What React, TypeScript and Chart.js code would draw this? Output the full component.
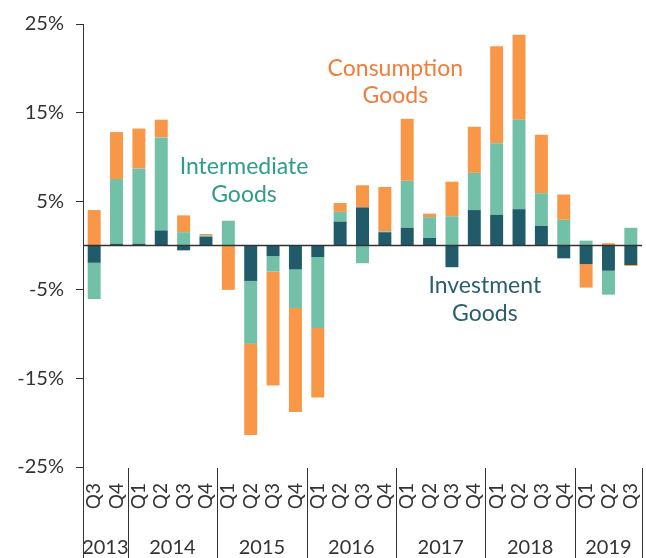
import { useEffect, useRef } from "react";
import { Chart, registerables } from "chart.js";

Chart.register(...registerables);

const quarters = [
  "Q3", "Q4",
  "Q1", "Q2", "Q3", "Q4",
  "Q1", "Q2", "Q3", "Q4",
  "Q1", "Q2", "Q3", "Q4",
  "Q1", "Q2", "Q3", "Q4",
  "Q1", "Q2", "Q3", "Q4",
  "Q1", "Q2", "Q3",
];
const years = ["2013", "2014", "2015", "2016", "2017", "2018", "2019"];

const investment = [
  -1.95, 0.2, 0.2, 1.7, -0.55, 1.0, 0, -4.0, -1.2, -2.7, -1.3, 2.7, 4.3, 1.5, 2.0,
  0.85, -2.45, 4.0, 3.45, 4.1, 2.2, -1.45, -2.1, -2.85, -2.2,
];
const intermediate = [
  -4.1, 7.3, 8.5, 10.5, 1.5, 0.15, 2.8, -7.1, -1.75, -4.35, -8.0, 1.1, -2.0, 0.1, 5.3,
  2.35, 3.3, 4.2, 8.1, 10.1, 3.7, 2.9, 0.55, -2.7, 2.0,
];
const consumption = [
  4.0, 5.3, 4.5, 2.0, 1.9, 0.15, -5.0, -10.3, -12.85, -11.75, -7.85, 1.0, 2.5, 5.0, 7.0,
  0.4, 3.9, 5.2, 10.95, 9.6, 6.6, 2.85, -2.65, 0.25, -0.1,
];
const yTicks = [-25, -15, -5, 5, 15, 25];

const seriesNames = ["Investment Goods", "Intermediate Goods", "Consumption Goods"];
const barColors = ["#215B69", "#72C0A7", "#F79747"];
const textColors = ["#2B5F6E", "#2E9C8B", "#F07D3A"];

// annotation anchors in data space: [category index, value]
const notes = [
  { lines: ["Investment", "Goods"], at: [17.47, -4.55], step: -3.1, color: textColors[0] },
  { lines: ["Intermediate", "Goods"], at: [6.7, 8.9], step: -3.15, color: textColors[1] },
  { lines: ["Consumption", "Goods"], at: [13.47, 20.0], step: -3.1, color: textColors[2] },
];

const FONT = "Lato, 'DejaVu Sans', sans-serif";
const AXIS = "#333333";

const overlay = {
  id: "overlay",
  afterDatasetsDraw(chart: any) {
    const { ctx, chartArea, scales } = chart;
    const y = scales.y;
    const y0 = y.getPixelForValue(0);
    ctx.save();
    ctx.strokeStyle = AXIS;
    ctx.lineWidth = 1.5;
    ctx.beginPath();
    ctx.moveTo(chartArea.left, y0);
    ctx.lineTo(chartArea.right, y0);
    ctx.stroke();
    ctx.restore();
  },
  afterDraw(chart: any) {
    const { ctx, chartArea, scales, height } = chart;
    const x = scales.x;
    const y = scales.y;
    ctx.save();
    ctx.strokeStyle = AXIS;
    ctx.lineWidth = 1;
    ctx.beginPath();
    ctx.moveTo(chartArea.left + 0.5, chartArea.bottom);
    ctx.lineTo(chartArea.left + 0.5, height);
    ctx.stroke();

    const groups: { start: number; end: number }[] = [];
    quarters.forEach((q, i) => {
      if (i === 0 || q === "Q1") groups.push({ start: i, end: i });
      else groups[groups.length - 1].end = i;
    });
    ctx.font = `20px ${FONT}`;
    ctx.fillStyle = AXIS;
    ctx.textAlign = "center";
    ctx.textBaseline = "alphabetic";
    groups.forEach((g, gi) => {
      const sepX = Math.round(x.getPixelForValue(g.end + 0.5)) + 0.5;
      ctx.beginPath();
      ctx.moveTo(sepX, chartArea.bottom + 1);
      ctx.lineTo(sepX, height);
      ctx.stroke();
      const cx = (x.getPixelForValue(g.start) + x.getPixelForValue(g.end)) / 2;
      ctx.fillText(years[gi], cx, height - 4);
    });

    ctx.font = `23px ${FONT}`;
    ctx.textBaseline = "middle";
    notes.forEach((n) => {
      ctx.fillStyle = n.color;
      n.lines.forEach((t, li) => {
        ctx.fillText(t, x.getPixelForValue(n.at[0]), y.getPixelForValue(n.at[1] + li * n.step));
      });
    });
    ctx.restore();
  },
};

export default function App() {
  const ref = useRef<HTMLCanvasElement | null>(null);

  useEffect(() => {
    if (!ref.current) return;
    const data = [investment, intermediate, consumption];
    const chart = new Chart(ref.current, {
      type: "bar",
      data: {
        labels: quarters,
        datasets: data.map((d, i) => ({
          label: seriesNames[i],
          data: d,
          backgroundColor: barColors[i],
          borderWidth: 0,
          categoryPercentage: 1,
          barPercentage: 0.58,
        })),
      },
      options: {
        responsive: true,
        maintainAspectRatio: false,
        animation: false,
        layout: { padding: { top: 22, right: 4, bottom: 0, left: 0 } },
        plugins: {
          legend: { display: false },
          tooltip: { enabled: false },
        },
        scales: {
          x: {
            stacked: true,
            grid: { display: false, drawTicks: false },
            border: { display: false },
            ticks: {
              autoSkip: false,
              minRotation: 90,
              maxRotation: 90,
              padding: 16,
              color: AXIS,
              font: { family: FONT, size: 19 },
            },
            afterFit: (s: any) => {
              s.height = 91;
              s.paddingLeft = 0;
              s.paddingRight = 0;
            },
          },
          y: {
            stacked: true,
            min: -25,
            max: 25,
            afterBuildTicks: (s: any) => {
              s.ticks = yTicks.map((v) => ({ value: v }));
            },
            grid: {
              display: true,
              drawOnChartArea: false,
              drawTicks: true,
              tickLength: 7,
              color: AXIS,
            },
            border: { display: true, color: AXIS, width: 1 },
            ticks: {
              padding: 12,
              color: AXIS,
              font: { family: FONT, size: 20 },
              callback: (v: any) => `${v}%`,
            },
            afterFit: (s: any) => {
              s.width = 83;
            },
          },
        },
      },
      plugins: [overlay],
    });
    return () => chart.destroy();
  }, []);

  return (
    <div style={{ position: "fixed", left: 0, top: 0, width: 646, height: 558, background: "#fff" }}>
      <canvas ref={ref} />
    </div>
  );
}
